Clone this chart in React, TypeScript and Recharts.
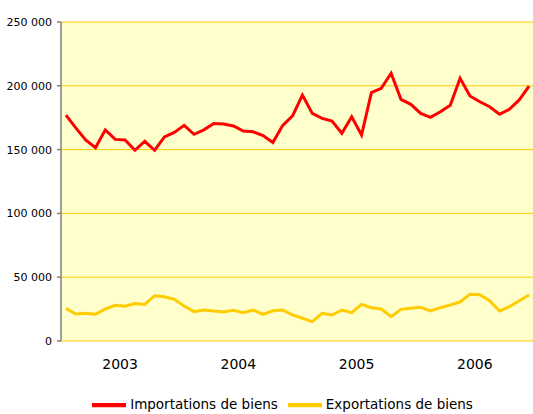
import React from 'react';
import { LineChart, Line, XAxis, YAxis, CartesianGrid, Legend } from 'recharts';

const years = ['2003', '2004', '2005', '2006'];
const seriesNames = ['Importations de biens', 'Exportations de biens'];

const importations = [
    177000, 167000, 157500, 151500, 165500, 158000, 157500, 149500, 156500, 149500, 160000, 163500,
    169000, 162000, 165500, 170500, 170000, 168500, 164500, 164000, 161000, 155500, 169000, 176500,
    192800, 178400, 174500, 172400, 162800, 175800, 161400, 194600, 198000, 209800, 189400, 185500,
    178400, 175300, 179700, 184700, 205900, 192000, 187500, 183600, 177700, 181600, 188900, 199800,
];

const exportations = [
    25600, 21200, 21700, 20900, 25100, 28000, 27200, 29300, 28700, 35500, 34700, 32700,
    27400, 23000, 24300, 23500, 22700, 24000, 22200, 24300, 20900, 23700, 24300, 20400,
    17800, 15200, 21700, 20400, 24300, 22200, 28700, 26100, 25100, 19100, 24800, 25600,
    26400, 23500, 26100, 28200, 30600, 36600, 36300, 31600, 23500, 26900, 31600, 36000,
];

const yTicks = [0, 50000, 100000, 150000, 200000, 250000];
const yearBounds = [0, 12, 24, 36, 48];
const yearCenters = [6, 18, 30, 42];

const data = importations.map((v, i) => ({ t: i + 0.5, imp: v, exp: exportations[i] }));

const fmt = (v: number) => String(v).replace(/\B(?=(\d{3})+(?!\d))/g, ' ');

export default function App() {
    return (
        <div style={{ position: 'absolute', left: 0, top: 0, width: 533, height: 414, background: '#fff' }}>
            <LineChart
                width={533}
                height={414}
                data={data}
                margin={{ top: 22, right: -1, left: 0, bottom: 43 }}
                style={{ fontFamily: 'DejaVu Sans' }}
            >
                <CartesianGrid xAxisId="bounds" vertical={false} stroke="#FFCC00" fill="#FFFFCC" fillOpacity={1} />
                <XAxis
                    xAxisId="bounds"
                    type="number"
                    dataKey="t"
                    domain={[0, 48]}
                    ticks={yearBounds}
                    tick={false}
                    tickSize={5}
                    height={0}
                    stroke="#000"
                    strokeWidth={1.5}
                />
                <XAxis
                    xAxisId="years"
                    type="number"
                    dataKey="t"
                    domain={[0, 48]}
                    ticks={yearCenters}
                    tickFormatter={(v: number) => years[(v - 6) / 12]}
                    axisLine={false}
                    tickLine={false}
                    tickSize={0}
                    tickMargin={18}
                    height={30}
                    tick={{ fill: '#000', fontSize: 14 }}
                />
                <YAxis
                    domain={[0, 250000]}
                    ticks={yTicks}
                    tickFormatter={fmt}
                    width={61}
                    tickSize={4}
                    tickMargin={5}
                    stroke="#808080"
                    strokeWidth={1.5}
                    tick={{ fill: '#000', fontSize: 11 }}
                />
                <Legend
                    layout="horizontal"
                    verticalAlign="middle"
                    align="center"
                    iconType="plainline"
                    iconSize={34}
                    itemSorter={(item: any) => seriesNames.indexOf(item.value)}
                    wrapperStyle={{ top: 388, left: 0, width: 575, fontSize: 13.5 }}
                    formatter={(value: string) => <span style={{ color: '#000' }}>{value}</span>}
                />
                <Line
                    xAxisId="bounds"
                    type="linear"
                    dataKey="imp"
                    name={seriesNames[0]}
                    stroke="#FF0000"
                    strokeWidth={3}
                    dot={false}
                    isAnimationActive={false}
                />
                <Line
                    xAxisId="bounds"
                    type="linear"
                    dataKey="exp"
                    name={seriesNames[1]}
                    stroke="#FFCC00"
                    strokeWidth={3}
                    dot={false}
                    isAnimationActive={false}
                />
            </LineChart>
        </div>
    );
}
